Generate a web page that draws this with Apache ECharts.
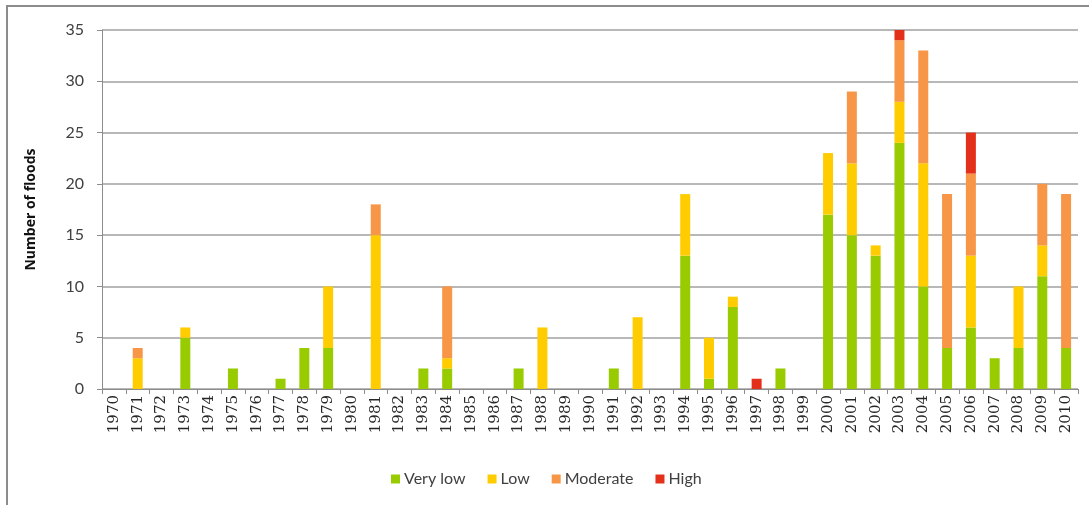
<!DOCTYPE html>
<html>
<head>
<meta charset="utf-8">
<script src="https://cdn.jsdelivr.net/npm/echarts@6/dist/echarts.min.js"></script>
<style>
  html, body { margin: 0; padding: 0; background: #fff; }
  #chart { width: 1089px; height: 505px; }
</style>
</head>
<body>
<div id="chart"></div>
<script>
// Yearly flood counts by severity class
const years = [];
for (let y = 1970; y <= 2010; y++) years.push(String(y));

const veryLow = [0,0,0,5,0,2,0,1,4,4,0,0,0,2,2,0,0,2,0,0,0,2,0,0,13,1,8,0,2,0,17,15,13,24,10,4,6,3,4,11,4];
const low     = [0,3,0,1,0,0,0,0,0,6,0,15,0,0,1,0,0,0,6,0,0,0,7,0,6,4,1,0,0,0,6,7,1,4,12,0,7,0,6,3,0];
const moderate= [0,1,0,0,0,0,0,0,0,0,0,3,0,0,7,0,0,0,0,0,0,0,0,0,0,0,0,0,0,0,0,7,0,6,11,15,8,0,0,6,15];
const high    = [0,0,0,0,0,0,0,0,0,0,0,0,0,0,0,0,0,0,0,0,0,0,0,0,0,0,0,1,0,0,0,0,0,1,0,0,4,0,0,0,0];

const yTicks = [0, 5, 10, 15, 20, 25, 30, 35];

const seriesDefs = [
  { name: 'Very low', data: veryLow, color: '#99cc00' },
  { name: 'Low', data: low, color: '#ffcc00' },
  { name: 'Moderate', data: moderate, color: '#f79646' },
  { name: 'High', data: high, color: '#e3301a' }
];

const chart = echarts.init(document.getElementById('chart'), null, { renderer: 'canvas' });

chart.setOption({
  animation: false,
  backgroundColor: '#ffffff',
  graphic: [{
    type: 'rect',
    shape: { x: 7, y: 6, width: 1100, height: 520 },
    style: { fill: 'none', stroke: '#8c8c8c', lineWidth: 2 },
    z: -1
  }],
  grid: { left: 102, right: 11, top: 30, bottom: 116 },
  legend: {
    left: 386,
    top: 466,
    itemWidth: 9,
    itemHeight: 9,
    itemGap: 22,
    icon: 'rect',
    textStyle: { fontFamily: 'Lato', fontSize: 16, color: '#404040', padding: [0, 0, 0, -1] },
    data: seriesDefs.map(s => s.name)
  },
  xAxis: {
    type: 'category',
    data: years,
    boundaryGap: true,
    axisLine: { lineStyle: { color: '#8c8c8c', width: 1 } },
    axisTick: { show: true, length: 5, alignWithLabel: false, lineStyle: { color: '#8c8c8c' } },
    axisLabel: {
      interval: 0,
      rotate: 90,
      margin: 6,
      fontFamily: 'DejaVu Serif',
      fontSize: 15,
      color: '#262626'
    },
    splitLine: { show: false }
  },
  yAxis: {
    type: 'value',
    min: yTicks[0],
    max: yTicks[yTicks.length - 1],
    interval: 5,
    name: 'Number of floods',
    nameLocation: 'middle',
    nameGap: 64,
    nameRotate: 90,
    nameTextStyle: { fontFamily: 'Open Sans', fontSize: 14, fontWeight: 'bold', color: '#111' },
    axisLine: { show: true, lineStyle: { color: '#8c8c8c', width: 1 } },
    axisTick: { show: true, length: 5, lineStyle: { color: '#8c8c8c' } },
    axisLabel: { margin: 18, fontFamily: 'Lato', fontSize: 16, color: '#404040' },
    splitLine: { lineStyle: { color: '#a0a0a0', width: 1.5 } }
  },
  series: seriesDefs.map(s => ({
    name: s.name,
    type: 'bar',
    stack: 'floods',
    barWidth: 10,
    data: s.data,
    itemStyle: { color: s.color }
  }))
});
</script>
</body>
</html>
